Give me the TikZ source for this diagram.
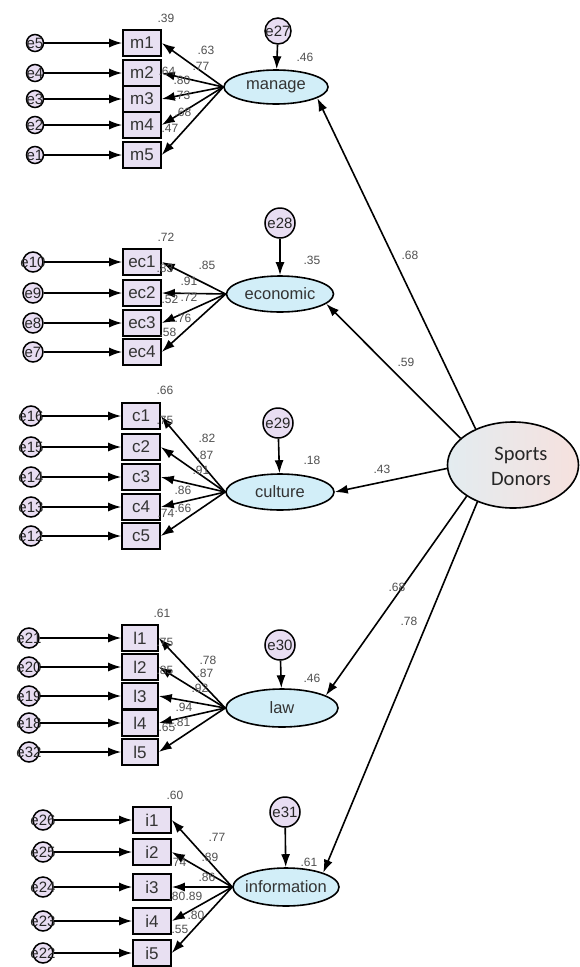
\documentclass[tikz,border=0pt]{standalone}
\usepackage{fontspec}
\setmainfont{Liberation Sans}
\newfontfamily\calib{Carlito}
\usetikzlibrary{shapes.geometric,arrows.meta}
\definecolor{boxfill}{HTML}{E8E0F2}
\definecolor{errfill}{HTML}{E8DDF2}
\definecolor{latfill}{HTML}{D2EEF8}
\definecolor{numcol}{HTML}{505050}
\definecolor{sdleft}{HTML}{E3ECF0}
\definecolor{sdright}{HTML}{F6E1DE}
\begin{document}
\begin{tikzpicture}[x=1pt,y=-1pt,
 obs/.style={draw, fill=boxfill, rectangle, minimum width=38pt, minimum height=26pt, inner sep=0pt, line width=1.6pt, font=\fontsize{17}{17}\selectfont, text=black!80},
 lat/.style={draw, fill=latfill, ellipse, inner sep=0pt, line width=1.6pt},
 lattxt/.style={inner sep=0pt, font=\fontsize{16.5}{16.5}\selectfont, text=black!80},
 errc/.style={draw, fill=errfill, circle, inner sep=0pt, line width=1.5pt, minimum size=20pt},
 errt/.style={inner sep=0pt, font=\fontsize{15}{15}\selectfont, text=black!85},
 num/.style={inner sep=0pt, font=\fontsize{12}{12}\selectfont, text=numcol},
 arr/.style={line width=1.6pt, -{Latex[length=13pt,width=9pt]}},
]
\fill[white] (0,0) rectangle (580,967);
\useasboundingbox (0,0) rectangle (580,967);

% ---------- latent variables ----------
\node[lat, minimum width=104pt, minimum height=34pt] (manage) at (276,87) {};
\node[lattxt] at (manage) {manage};
\node[lat, minimum width=107pt, minimum height=36pt] (economic) at (280,294) {};
\node[lattxt] at (economic) {economic};
\node[lat, minimum width=108pt, minimum height=36pt] (culture) at (280,492) {};
\node[lattxt] at (culture) {culture};
\node[lat, minimum width=112pt, minimum height=38pt] (law) at (282,708) {};
\node[lattxt] at (law) {law};
\node[lat, minimum width=106pt, minimum height=38pt] (information) at (286,887) {};
\node[lattxt] at (information) {information};

\node[draw, ellipse, line width=1.6pt, left color=sdleft, right color=sdright, minimum width=131pt, minimum height=86pt, inner sep=0pt] (sd) at (513,465) {};
\node[font=\calib\fontsize{20.5}{25}\selectfont, align=center, text=black!85, inner sep=0pt] (sdtxt) at (521,466) {Sports\\Donors};

% ---------- latent residuals ----------
\node[errc, minimum size=26pt] (e27) at (278,31) {};
\node[errt] at (e27) {e27};
\node[errc, minimum size=30pt] (e28) at (280,223) {};
\node[errt] at (e28) {e28};
\node[errc, minimum size=30pt] (e29) at (278,423) {};
\node[errt] at (e29) {e29};
\node[errc, minimum size=30pt] (e30) at (280,645) {};
\node[errt] at (e30) {e30};
\node[errc, minimum size=30pt] (e31) at (285,812) {};
\node[errt] at (e31) {e31};
\draw[arr] (e27) -- (manage);
\draw[arr] (e28) -- (economic);
\draw[arr] (e29) -- (culture);
\draw[arr] (e30) -- (law);
\draw[arr] (e31) -- (information);

% ---------- structural paths ----------
\draw[arr] (sd.136) -- (manage.-15);
\draw[arr] (sd.153) -- (economic.-12);
\draw[arr] (sd.183) -- (culture.east);
\draw[arr] (sd.214) -- (law.16);
\draw[arr] (sd.226) -- (information.21);

% ---------- measurement blocks ----------
\foreach \n/\y/\e in {m1/43/e5, m2/73/e4, m3/99/e3, m4/125/e2, m5/155/e1} {
  \node[obs] (\n) at (142,\y) {\n};
  \node[errc, minimum size=17pt] (err\n) at (35,\y) {};
  \node[errt] at (err\n) {\e};
  \draw[arr] (err\n) -- (\n);
  \draw[arr] (manage.west) -- (\n.east);
}
\foreach \n/\y/\e in {ec1/262/e10, ec2/293/e9, ec3/323/e8, ec4/352/e7} {
  \node[obs] (\n) at (142,\y) {\n};
  \node[errc] (err\n) at (33,\y) {};
  \node[errt] at (err\n) {\e};
  \draw[arr] (err\n) -- (\n);
  \draw[arr] (economic.west) -- (\n.east);
}
\foreach \n/\y/\e in {c1/416/e16, c2/447/e15, c3/477/e14, c4/507/e13, c5/536/e12} {
  \node[obs] (\n) at (141,\y) {\n};
  \node[errc] (err\n) at (31,\y) {};
  \node[errt] at (err\n) {\e};
  \draw[arr] (err\n) -- (\n);
  \draw[arr] (culture.west) -- (\n.east);
}
\foreach \n/\y/\e in {l1/638/e21, l2/667/e20, l3/696/e19, l4/723/e18, l5/752/e32} {
  \node[obs, minimum width=36pt] (\n) at (140,\y) {\n};
  \node[errc] (err\n) at (29,\y) {};
  \node[errt] at (err\n) {\e};
  \draw[arr] (err\n) -- (\n);
  \draw[arr] (law.west) -- (\n.east);
}
\foreach \n/\y/\e in {i1/820/e26, i2/852/e25, i3/887/e24, i4/921/e23, i5/953/e22} {
  \node[obs] (\n) at (152,\y) {\n};
  \node[errc] (err\n) at (43,\y) {};
  \node[errt] at (err\n) {\e};
  \draw[arr] (err\n) -- (\n);
  \draw[arr] (information.west) -- (\n.east);
}

% ---------- numbers: manage ----------
\node[num] (n1) at (166,18) {.39};
\node[num] (n2) at (305,57) {.46};
\node[num] (n3) at (206,50) {.63};
\node[num] (n4) at (201,66) {.77};
\node[num] (n5) at (182,80) {.80};
\node[num] (n6) at (182,95) {.73};
\node[num] (n7) at (183,112) {.68};
\node[num] (n8) at (170,128) {.47};
\node[num] (n9) at (167,71) {.64};
% economic
\node[num] (n10) at (166,237) {.72};
\node[num] (n11) at (312,260) {.35};
\node[num] (n12) at (207,265) {.85};
\node[num] (n13) at (189,281) {.91};
\node[num] (n14) at (170,299) {.52};
\node[num] (n15) at (189,297) {.72};
\node[num] (n16) at (183,318) {.76};
\node[num] (n17) at (168,332) {.58};
\node[num] (n18) at (165,268) {.83};
% culture
\node[num] (n19) at (165,390) {.66};
\node[num] (n20) at (312,460) {.18};
\node[num] (n21) at (207,438) {.82};
\node[num] (n22) at (205,455) {.87};
\node[num] (n23) at (201,470) {.91};
\node[num] (n24) at (183,490) {.86};
\node[num] (n25) at (183,508) {.66};
\node[num] (n26) at (165,420) {.75};
\node[num] (n27) at (166,513) {.74};
% law
\node[num] (n28) at (162,613) {.61};
\node[num] (n29) at (312,678) {.46};
\node[num] (n30) at (208,660) {.78};
\node[num] (n31) at (205,673) {.87};
\node[num] (n32) at (200,688) {.92};
\node[num] (n33) at (184,707) {.94};
\node[num] (n34) at (182,722) {.81};
\node[num] (n35) at (165,642) {.75};
\node[num] (n36) at (165,670) {.85};
\node[num] (n37) at (167,727) {.65};
% information
\node[num] (n38) at (175,795) {.60};
\node[num] (n39) at (309,862) {.61};
\node[num] (n40) at (217,837) {.77};
\node[num] (n41) at (210,857) {.89};
\node[num] (n42) at (207,877) {.86};
\node[num] (n43) at (177,896) {.80};
\node[num] (n44) at (194,896) {.89};
\node[num] (n45) at (196,915) {.80};
\node[num] (n46) at (180,929) {.55};
\node[num] (n47) at (178,862) {.74};
% structural
\node[num] (s1) at (410,255) {.68};
\node[num] (s2) at (406,362) {.59};
\node[num] (s3) at (382,469) {.43};
\node[num] (s4) at (397,587) {.68};
\node[num] (s5) at (409,621) {.78};
\end{tikzpicture}
\end{document}
